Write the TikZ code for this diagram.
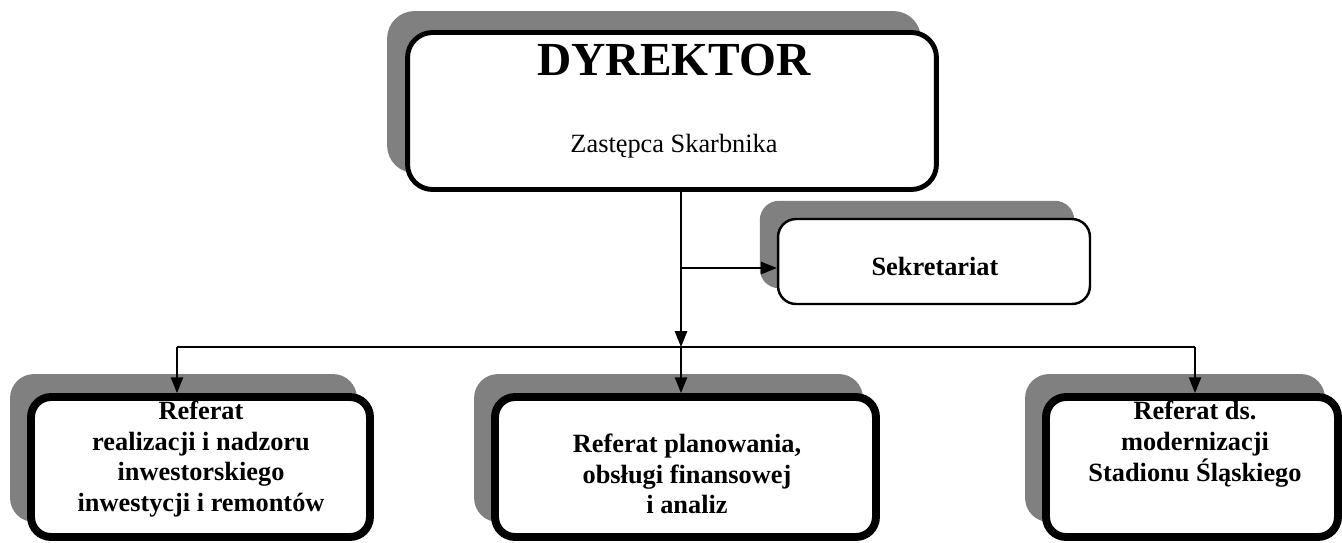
\documentclass[tikz,border=0pt]{standalone}
\usepackage{fontspec}
\setmainfont{Liberation Serif}
\usetikzlibrary{arrows.meta,shadows}

\definecolor{shadowgray}{RGB}{128,128,128}
\tikzset{
	box/.style={draw, fill=white, rounded corners=0.4cm, inner sep=0pt},
	headbox/.style={box, line width=2.8pt, rounded corners=0.5cm,
		general shadow={fill=shadowgray, draw=shadowgray, shadow xshift=-0.36cm, shadow yshift=0.38cm}},
	unitbox/.style={box, line width=4.5pt, minimum height=2.8cm,
		general shadow={fill=shadowgray, draw=shadowgray, shadow xshift=-0.34cm, shadow yshift=0.38cm}},
	officebox/.style={box, line width=1.4pt, rounded corners=0.36cm,
		general shadow={fill=shadowgray, draw=shadowgray, shadow xshift=-0.34cm, shadow yshift=0.34cm}},
	unitlabel/.style={align=center, font=\fontsize{15}{17.5}\selectfont\bfseries},
	link/.style={line width=0.9pt},
	linkarrow/.style={link, -{Triangle[length=9pt,width=7pt]}}
}

\begin{document}
\begin{tikzpicture}[x=0.02cm, y=-0.02cm]
	\useasboundingbox (0,0) rectangle (1342,542);
	% boxes
	\node[headbox, minimum width=10.58cm, minimum height=3.14cm] (dyr) at (672,111) {};
	\node[officebox, minimum width=6.24cm, minimum height=1.7cm] (sek) at (934,261.5) {};
	\node[unitbox, minimum width=6.78cm] (lref) at (200.5,467) {};
	\node[unitbox, minimum width=7.62cm] (mref) at (685.5,467) {};
	\node[unitbox, minimum width=5.84cm] (rref) at (1192,467) {};
	% labels
	\node[font=\fontsize{27}{30}\selectfont\bfseries] (dyrtitle) at (674,60) {DYREKTOR};
	\node[font=\fontsize{15}{18}\selectfont] (dyrsub) at (674,146) {Zastępca Skarbnika};
	\node[font=\fontsize{15}{18}\selectfont\bfseries] (sekname) at (935,266) {Sekretariat};
	\node[unitlabel] (lrefname) at (201,459) {Referat\\realizacji i nadzoru\\inwestorskiego\\inwestycji i remontów};
	\node[unitlabel] (mrefname) at (687,474) {Referat planowania,\\obsługi finansowej\\i analiz};
	\node[unitlabel] (rrefname) at (1195,444) {Referat ds.\\modernizacji\\Stadionu Śląskiego};
	% arrows
	\coordinate (split) at (681,347);
	\coordinate (lsplit) at (177,347);
	\coordinate (rsplit) at (1195,347);
	\coordinate (sekjoin) at (681,268);
	\draw[linkarrow] (dyr.south -| split) -- (split);
	\draw[linkarrow] (sekjoin) -- (sekjoin -| sek.west);
	\draw[link] (lsplit) -- (rsplit);
	\draw[linkarrow] (lsplit) -- (lsplit |- lref.north);
	\draw[linkarrow] (split) -- (split |- mref.north);
	\draw[linkarrow] (rsplit) -- (rsplit |- rref.north);
\end{tikzpicture}
\end{document}
